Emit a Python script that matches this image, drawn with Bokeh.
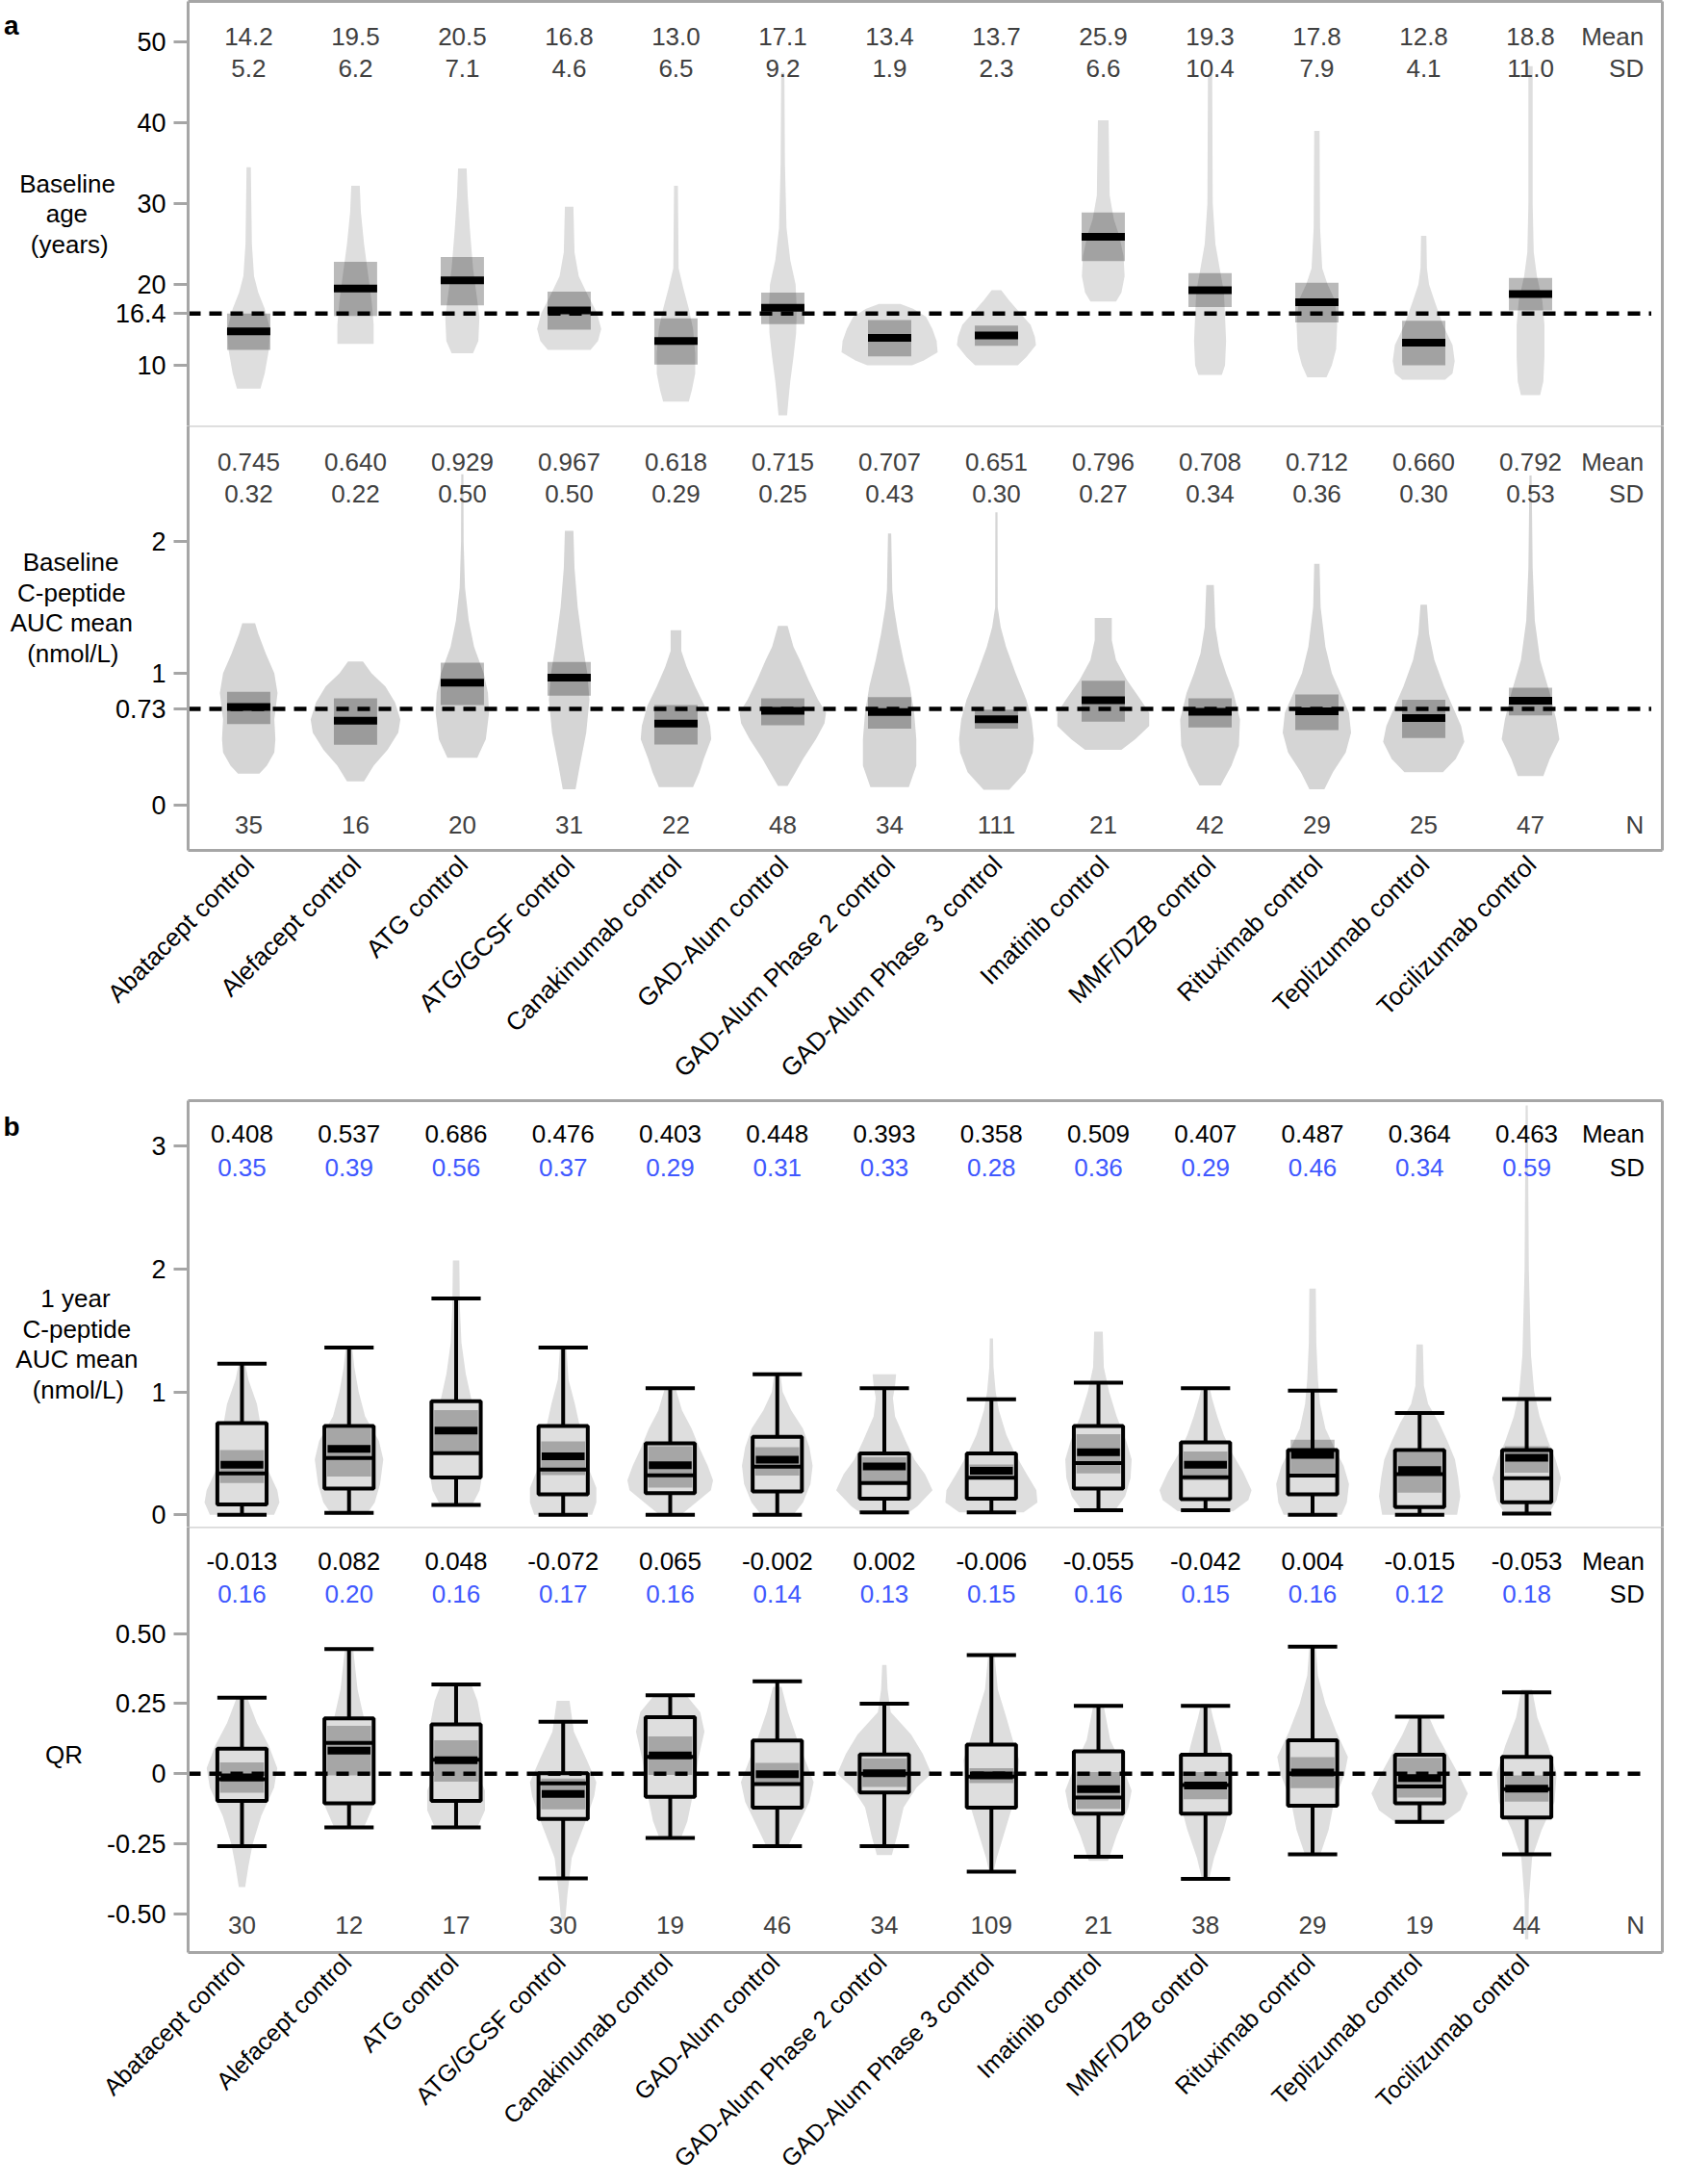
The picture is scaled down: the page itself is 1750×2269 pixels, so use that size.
import math
from bokeh.plotting import figure
from bokeh.models import Range1d, LinearAxis, FixedTicker
from bokeh.layouts import column
from bokeh.embed import file_html
from bokeh.resources import INLINE
from bokeh.core.properties import value

# ---------------- data ----------------
categories = ["Abatacept control", "Alefacept control", "ATG control", "ATG/GCSF control",
              "Canakinumab control", "GAD-Alum control", "GAD-Alum Phase 2 control",
              "GAD-Alum Phase 3 control", "Imatinib control", "MMF/DZB control",
              "Rituximab control", "Teplizumab control", "Tocilizumab control"]

# panel a: baseline age
age_mean = [14.2, 19.5, 20.5, 16.8, 13.0, 17.1, 13.4, 13.7, 25.9, 19.3, 17.8, 12.8, 18.8]
age_sd = [5.2, 6.2, 7.1, 4.6, 6.5, 9.2, 1.9, 2.3, 6.6, 10.4, 7.9, 4.1, 11.0]
age_ci_lo = [11.9, 16.1, 17.4, 14.4, 10.1, 15.1, 11.1, 12.4, 22.9, 17.2, 15.3, 10.0, 16.8]
age_ci_hi = [16.4, 22.8, 23.4, 19.1, 15.8, 19.0, 15.6, 14.9, 28.9, 21.4, 20.2, 15.5, 20.8]
age_ref = 16.4
age_violin = [
    [(7.1, 0.11), (9, 0.15), (12, 0.19), (14.5, 0.20), (17, 0.15), (19, 0.09), (21, 0.05), (25, 0.03), (34.5, 0.02)],
    [(12.65, 0.17), (15, 0.17), (18, 0.15), (21, 0.12), (25, 0.08), (29, 0.05), (32.2, 0.04)],
    [(11.5, 0.10), (13, 0.15), (16, 0.16), (19, 0.13), (22, 0.10), (27, 0.07), (31, 0.05), (34.35, 0.04)],
    [(11.9, 0.2), (13, 0.27), (14.5, 0.30), (16.5, 0.26), (18.5, 0.18), (21, 0.09), (24, 0.05), (29.6, 0.04)],
    [(5.5, 0.12), (7, 0.15), (9, 0.18), (11.5, 0.18), (14.5, 0.16), (17, 0.12), (19.5, 0.07), (22, 0.025), (32.2, 0.018)],
    [(3.8, 0.04), (6, 0.055), (8, 0.07), (11, 0.1), (14, 0.125), (17, 0.13), (20, 0.12), (23, 0.07), (27, 0.035), (35, 0.02), (46.2, 0.015)],
    [(10.0, 0.21), (10.6, 0.32), (11.6, 0.45), (13, 0.44), (14.5, 0.4), (16, 0.34), (17, 0.22), (17.6, 0.1)],
    [(10.0, 0.2), (11, 0.28), (12.5, 0.37), (13.5, 0.36), (15, 0.32), (16.5, 0.22), (18, 0.12), (19.3, 0.045)],
    [(17.9, 0.12), (19, 0.17), (21, 0.2), (23.5, 0.19), (26, 0.15), (28, 0.1), (31, 0.06), (40.3, 0.05)],
    [(8.8, 0.11), (10, 0.14), (13, 0.15), (16, 0.14), (19, 0.13), (22, 0.09), (25, 0.05), (30, 0.025), (46, 0.02)],
    [(8.5, 0.09), (10, 0.14), (12, 0.18), (15, 0.19), (18, 0.17), (20, 0.1), (22, 0.05), (27, 0.03), (39, 0.025)],
    [(8.2, 0.2), (9, 0.27), (10.5, 0.29), (12.5, 0.27), (15, 0.18), (18, 0.1), (20, 0.05), (22, 0.03), (26, 0.025)],
    [(6.3, 0.09), (8, 0.12), (11, 0.13), (15, 0.13), (18, 0.11), (21, 0.06), (24, 0.03), (30, 0.02), (47, 0.02)],
]
age_ticks = [10, 16.4, 20, 30, 40, 50]
age_tick_labels = ["10", "16.4", "20", "30", "40", "50"]

# panel a: baseline C-peptide
cpep_mean = [0.745, 0.640, 0.929, 0.967, 0.618, 0.715, 0.707, 0.651, 0.796, 0.708, 0.712, 0.660, 0.792]
cpep_sd = [0.32, 0.22, 0.50, 0.50, 0.29, 0.25, 0.43, 0.30, 0.27, 0.34, 0.36, 0.30, 0.53]
cpep_n = [35, 16, 20, 31, 22, 48, 34, 111, 21, 42, 29, 25, 47]
cpep_ci_lo = [0.615, 0.458, 0.76, 0.83, 0.46, 0.605, 0.58, 0.58, 0.633, 0.59, 0.57, 0.51, 0.68]
cpep_ci_hi = [0.86, 0.81, 1.08, 1.085, 0.76, 0.81, 0.82, 0.725, 0.944, 0.81, 0.84, 0.80, 0.89]
cpep_ref = 0.73
cpep_violin = [
    [(0.24, 0.1), (0.3, 0.17), (0.4, 0.24), (0.5, 0.25), (0.65, 0.24), (0.85, 0.27), (1.0, 0.24), (1.15, 0.16), (1.3, 0.09), (1.38, 0.06)],
    [(0.18, 0.08), (0.3, 0.17), (0.42, 0.3), (0.55, 0.4), (0.65, 0.42), (0.78, 0.37), (0.9, 0.28), (1.0, 0.15), (1.09, 0.07)],
    [(0.36, 0.14), (0.5, 0.22), (0.7, 0.25), (0.85, 0.24), (1.0, 0.2), (1.2, 0.11), (1.4, 0.06), (1.65, 0.025), (2.0, 0.012), (2.51, 0.01)],
    [(0.12, 0.06), (0.3, 0.1), (0.55, 0.16), (0.8, 0.19), (1.0, 0.17), (1.2, 0.13), (1.5, 0.08), (1.8, 0.05), (2.08, 0.04)],
    [(0.137, 0.16), (0.25, 0.22), (0.35, 0.26), (0.5, 0.33), (0.6, 0.32), (0.75, 0.27), (0.9, 0.18), (1.05, 0.1), (1.17, 0.05), (1.326, 0.05)],
    [(0.146, 0.045), (0.25, 0.12), (0.35, 0.19), (0.5, 0.31), (0.62, 0.39), (0.7, 0.405), (0.8, 0.33), (0.95, 0.24), (1.1, 0.16), (1.2, 0.1), (1.36, 0.045)],
    [(0.137, 0.18), (0.3, 0.25), (0.5, 0.25), (0.7, 0.23), (0.9, 0.19), (1.1, 0.13), (1.3, 0.08), (1.5, 0.04), (1.63, 0.025), (2.06, 0.015)],
    [(0.117, 0.12), (0.25, 0.27), (0.4, 0.34), (0.5, 0.35), (0.65, 0.33), (0.8, 0.28), (1.0, 0.18), (1.2, 0.09), (1.35, 0.04), (1.5, 0.012), (2.22, 0.01)],
    [(0.42, 0.17), (0.5, 0.3), (0.6, 0.43), (0.7, 0.43), (0.8, 0.35), (0.95, 0.22), (1.1, 0.12), (1.25, 0.08), (1.42, 0.08)],
    [(0.15, 0.1), (0.3, 0.2), (0.45, 0.27), (0.65, 0.28), (0.85, 0.22), (1.0, 0.15), (1.15, 0.09), (1.35, 0.05), (1.67, 0.035)],
    [(0.12, 0.07), (0.25, 0.15), (0.4, 0.27), (0.55, 0.32), (0.7, 0.3), (0.85, 0.22), (1.0, 0.14), (1.2, 0.08), (1.5, 0.035), (1.83, 0.025)],
    [(0.25, 0.18), (0.35, 0.3), (0.48, 0.38), (0.6, 0.35), (0.75, 0.27), (0.9, 0.19), (1.1, 0.1), (1.3, 0.05), (1.52, 0.03)],
    [(0.22, 0.12), (0.35, 0.18), (0.5, 0.27), (0.65, 0.24), (0.85, 0.18), (1.1, 0.09), (1.4, 0.04), (1.8, 0.02), (2.5, 0.01)],
]
cpep_ticks = [0, 0.73, 1, 2]
cpep_tick_labels = ["0", "0.73", "1", "2"]

# panel b: 1 year C-peptide
yr_mean = [0.408, 0.537, 0.686, 0.476, 0.403, 0.448, 0.393, 0.358, 0.509, 0.407, 0.487, 0.364, 0.463]
yr_sd = [0.35, 0.39, 0.56, 0.37, 0.29, 0.31, 0.33, 0.28, 0.36, 0.29, 0.46, 0.34, 0.59]
yr_whisk_lo = [0.0, 0.016, 0.081, 0.0, 0.0, 0.0, 0.02, 0.02, 0.037, 0.037, 0.0, 0.0, 0.01]
yr_q1 = [0.084, 0.214, 0.303, 0.167, 0.177, 0.19, 0.132, 0.132, 0.214, 0.128, 0.167, 0.063, 0.102]
yr_median = [0.337, 0.462, 0.501, 0.368, 0.321, 0.392, 0.258, 0.302, 0.42, 0.305, 0.319, 0.33, 0.298]
yr_q3 = [0.746, 0.723, 0.924, 0.723, 0.581, 0.635, 0.5, 0.5, 0.723, 0.59, 0.527, 0.527, 0.527]
yr_whisk_hi = [1.23, 1.36, 1.76, 1.36, 1.03, 1.143, 1.03, 0.94, 1.075, 1.03, 1.01, 0.828, 0.942]
yr_ci_lo = [0.258, 0.311, 0.507, 0.323, 0.222, 0.32, 0.266, 0.29, 0.337, 0.28, 0.337, 0.18, 0.342]
yr_ci_hi = [0.527, 0.702, 0.851, 0.597, 0.558, 0.55, 0.47, 0.41, 0.655, 0.514, 0.611, 0.507, 0.558]
yr_violin = [
    [(0.0, 0.3), (0.1, 0.35), (0.2, 0.33), (0.35, 0.25), (0.5, 0.2), (0.7, 0.18), (0.9, 0.14), (1.1, 0.06), (1.23, 0.03)],
    [(0.0, 0.16), (0.1, 0.24), (0.25, 0.29), (0.45, 0.32), (0.6, 0.28), (0.8, 0.15), (1.0, 0.09), (1.2, 0.05), (1.36, 0.03)],
    [(0.08, 0.15), (0.2, 0.22), (0.35, 0.25), (0.55, 0.24), (0.75, 0.21), (0.95, 0.14), (1.15, 0.09), (1.4, 0.05), (1.7, 0.035), (2.07, 0.03)],
    [(0.0, 0.27), (0.1, 0.31), (0.22, 0.31), (0.35, 0.25), (0.5, 0.2), (0.7, 0.16), (0.9, 0.11), (1.1, 0.05), (1.36, 0.03)],
    [(0.0, 0.1), (0.07, 0.2), (0.2, 0.38), (0.28, 0.4), (0.4, 0.35), (0.55, 0.27), (0.7, 0.2), (0.85, 0.11), (1.03, 0.05)],
    [(0.0, 0.15), (0.1, 0.24), (0.25, 0.31), (0.4, 0.33), (0.55, 0.3), (0.7, 0.24), (0.85, 0.13), (1.0, 0.05), (1.14, 0.03)],
    [(0.0, 0.2), (0.07, 0.31), (0.2, 0.45), (0.33, 0.38), (0.45, 0.28), (0.6, 0.2), (0.8, 0.1), (0.95, 0.08), (1.05, 0.1), (1.143, 0.11)],
    [(0.02, 0.3), (0.1, 0.43), (0.2, 0.42), (0.33, 0.33), (0.5, 0.22), (0.65, 0.14), (0.85, 0.07), (1.0, 0.04), (1.2, 0.02), (1.435, 0.015)],
    [(0.03, 0.15), (0.15, 0.25), (0.3, 0.3), (0.45, 0.31), (0.6, 0.26), (0.8, 0.17), (1.0, 0.1), (1.2, 0.05), (1.49, 0.04)],
    [(0.03, 0.26), (0.12, 0.4), (0.2, 0.43), (0.35, 0.35), (0.5, 0.25), (0.65, 0.17), (0.8, 0.11), (0.95, 0.06), (1.03, 0.04)],
    [(0.0, 0.27), (0.1, 0.32), (0.25, 0.34), (0.4, 0.29), (0.55, 0.2), (0.7, 0.12), (0.9, 0.07), (1.1, 0.05), (1.4, 0.035), (1.84, 0.03)],
    [(0.0, 0.35), (0.15, 0.38), (0.3, 0.36), (0.45, 0.33), (0.6, 0.26), (0.75, 0.18), (0.9, 0.08), (1.05, 0.04), (1.386, 0.03)],
    [(0.0, 0.2), (0.12, 0.28), (0.3, 0.32), (0.45, 0.27), (0.6, 0.2), (0.8, 0.12), (1.0, 0.07), (1.3, 0.04), (2.0, 0.02), (3.33, 0.01)],
]
yr_ticks = [0, 1, 2, 3]
yr_tick_labels = ["0", "1", "2", "3"]

# panel b: QR
qr_mean = [-0.013, 0.082, 0.048, -0.072, 0.065, -0.002, 0.002, -0.006, -0.055, -0.042, 0.004, -0.015, -0.053]
qr_sd = [0.16, 0.20, 0.16, 0.17, 0.16, 0.14, 0.13, 0.15, 0.16, 0.15, 0.16, 0.12, 0.18]
qr_n = [30, 12, 17, 30, 19, 46, 34, 109, 21, 38, 29, 19, 44]
qr_whisk_lo = [-0.258, -0.191, -0.191, -0.373, -0.229, -0.258, -0.258, -0.349, -0.296, -0.375, -0.287, -0.171, -0.287]
qr_q1 = [-0.097, -0.105, -0.097, -0.161, -0.082, -0.121, -0.067, -0.121, -0.142, -0.142, -0.114, -0.105, -0.156]
qr_median = [-0.02, 0.11, 0.05, -0.034, 0.06, -0.037, 0.0, -0.01, -0.085, -0.04, 0.0, -0.045, -0.055]
qr_q3 = [0.089, 0.197, 0.176, 0.002, 0.202, 0.118, 0.069, 0.104, 0.08, 0.068, 0.119, 0.068, 0.06]
qr_whisk_hi = [0.271, 0.444, 0.318, 0.185, 0.28, 0.329, 0.25, 0.423, 0.242, 0.242, 0.453, 0.203, 0.29]
qr_ci_lo = [-0.068, -0.006, -0.028, -0.127, -0.004, -0.033, -0.047, -0.033, -0.125, -0.091, -0.051, -0.085, -0.099]
qr_ci_hi = [0.04, 0.171, 0.119, -0.017, 0.133, 0.039, 0.055, 0.02, 0.006, 0.006, 0.059, 0.057, -0.006]
qr_ref = 0.0
qr_violin = [
    [(-0.404, 0.03), (-0.33, 0.06), (-0.25, 0.1), (-0.15, 0.18), (-0.05, 0.3), (0.02, 0.33), (0.1, 0.25), (0.18, 0.14), (0.27, 0.05)],
    [(-0.19, 0.14), (-0.12, 0.22), (-0.03, 0.24), (0.07, 0.22), (0.18, 0.15), (0.3, 0.08), (0.44, 0.04)],
    [(-0.19, 0.2), (-0.13, 0.27), (-0.06, 0.27), (0.02, 0.18), (0.1, 0.19), (0.18, 0.24), (0.26, 0.2), (0.32, 0.14)],
    [(-0.52, 0.02), (-0.43, 0.04), (-0.3, 0.08), (-0.18, 0.2), (-0.08, 0.29), (-0.03, 0.31), (0.05, 0.22), (0.15, 0.1), (0.26, 0.06)],
    [(-0.23, 0.1), (-0.17, 0.16), (-0.06, 0.22), (0.05, 0.26), (0.15, 0.32), (0.22, 0.28), (0.28, 0.15)],
    [(-0.26, 0.1), (-0.18, 0.2), (-0.1, 0.3), (-0.03, 0.34), (0.05, 0.26), (0.13, 0.18), (0.22, 0.1), (0.31, 0.04)],
    [(-0.29, 0.07), (-0.22, 0.12), (-0.12, 0.18), (-0.05, 0.3), (0.0, 0.44), (0.07, 0.36), (0.14, 0.25), (0.22, 0.06), (0.3, 0.03), (0.388, 0.02)],
    [(-0.35, 0.02), (-0.3, 0.05), (-0.2, 0.13), (-0.06, 0.24), (0.05, 0.26), (0.12, 0.2), (0.2, 0.14), (0.3, 0.06), (0.42, 0.03)],
    [(-0.31, 0.09), (-0.22, 0.17), (-0.12, 0.28), (-0.06, 0.31), (0.03, 0.22), (0.12, 0.11), (0.24, 0.05)],
    [(-0.38, 0.03), (-0.3, 0.08), (-0.2, 0.17), (-0.1, 0.24), (0.0, 0.2), (0.1, 0.14), (0.2, 0.07), (0.25, 0.04)],
    [(-0.29, 0.07), (-0.2, 0.15), (-0.1, 0.2), (0.0, 0.3), (0.06, 0.33), (0.15, 0.22), (0.25, 0.12), (0.35, 0.05), (0.45, 0.03)],
    [(-0.18, 0.2), (-0.13, 0.38), (-0.07, 0.45), (0.0, 0.36), (0.07, 0.26), (0.14, 0.16), (0.2, 0.09)],
    [(-0.59, 0.015), (-0.45, 0.02), (-0.3, 0.05), (-0.2, 0.14), (-0.1, 0.26), (0.0, 0.28), (0.1, 0.2), (0.2, 0.1), (0.3, 0.05)],
]
qr_ticks = [-0.5, -0.25, 0, 0.25, 0.5]
qr_tick_labels = ["-0.50", "-0.25", "0", "0.25", "0.50"]

# ---------------- styling ----------------
FONT = "Liberation Sans"
FRAME = "#a6a6a6"
SEP = "#dadada"
STAT_GREY = "#404040"
SD_BLUE = "#4058ff"
NBSP = "\u00a0"
idx = list(range(len(categories)))

# Arial / Liberation Sans advance widths (per 1000 em) used to centre label lines
GLYPH_W = {"B": 667, "a": 556, "s": 500, "e": 556, "l": 222, "i": 222, "n": 556, "g": 556,
           "(": 333, "y": 500, "r": 333, ")": 333, "C": 722, "-": 333, "p": 556, "t": 278,
           "d": 556, "A": 667, "U": 722, " ": 278, "m": 833, "o": 556, "/": 278, "L": 556,
           "1": 556, "Q": 778, "R": 722}


def block_label(lines, before=0, after=0):
    def tw(s):
        return sum(GLYPH_W.get(c, 556) for c in s)
    widest = max(tw(l) for l in lines)
    padded = [l + NBSP * int(round((widest - tw(l)) / 2.0 / 278)) for l in lines]
    return "\n".join([NBSP] * before + padded + [NBSP] * after)


def style_yaxis(ax, ticks, labels, title, title_standoff):
    ax.ticker = FixedTicker(ticks=ticks, minor_ticks=[])
    ax.major_label_overrides = {t: l for t, l in zip(ticks, labels)}
    ax.axis_line_color = FRAME
    ax.axis_line_width = 3
    ax.major_tick_line_color = FRAME
    ax.major_tick_line_width = 3
    ax.major_tick_out = 15
    ax.major_tick_in = 0
    ax.minor_tick_out = 0
    ax.minor_tick_in = 0
    ax.major_label_text_font = FONT
    ax.major_label_text_font_size = "27px"
    ax.major_label_text_color = "black"
    ax.major_label_standoff = 8
    ax.axis_label = title
    ax.axis_label_text_font = FONT
    ax.axis_label_text_font_size = "26px"
    ax.axis_label_text_font_style = "normal"
    ax.axis_label_text_color = "black"
    ax.axis_label_text_line_height = 1.05
    ax.axis_label_standoff = title_standoff
    try:
        ax.axis_label_orientation = "horizontal"
    except Exception:
        pass


def line_axis(p, side, color, width=3):
    ax = LinearAxis(ticker=FixedTicker(ticks=[], minor_ticks=[]),
                    axis_line_color=color, axis_line_width=width,
                    major_tick_out=0, major_tick_in=0, minor_tick_out=0, minor_tick_in=0,
                    major_label_text_font_size="0px", major_label_standoff=0)
    p.add_layout(ax, side)


def letter_axis(p, yv, letter, standoff):
    ax = LinearAxis(ticker=FixedTicker(ticks=[yv], minor_ticks=[]),
                    major_label_overrides={yv: letter},
                    axis_line_color=None, major_tick_line_color=None,
                    major_tick_out=0, major_tick_in=0, minor_tick_out=0, minor_tick_in=0,
                    major_label_text_font=FONT, major_label_text_font_size="28px",
                    major_label_text_font_style="bold", major_label_text_color="black",
                    major_label_standoff=standoff)
    p.add_layout(ax, "left")


LEFT, FRAME_W, RIGHT = 194, 1533, 6


def make_fig(xr, yr, frame_h, top, bottom, xlab, ticks, tick_labels,
             top_color, title, title_standoff):
    p = figure(width=LEFT + FRAME_W + RIGHT, height=top + frame_h + bottom,
               x_range=Range1d(*xr), y_range=Range1d(*yr),
               output_backend="svg", toolbar_location=None,
               x_axis_location="below" if xlab else None, y_axis_location="left",
               min_border_left=LEFT, min_border_right=RIGHT,
               min_border_top=top, min_border_bottom=bottom,
               outline_line_color=None, background_fill_color="white",
               border_fill_color="white")
    p.grid.visible = False
    style_yaxis(p.yaxis[0], ticks, tick_labels, title, title_standoff)
    if xlab:
        shift, fsize, standoff = xlab
        ax = p.xaxis[0]
        tpos = [i + shift for i in idx]
        ax.ticker = FixedTicker(ticks=tpos, minor_ticks=[])
        ax.major_label_overrides = {t: c for t, c in zip(tpos, categories)}
        ax.major_label_orientation = math.pi / 4
        ax.axis_line_color = FRAME
        ax.axis_line_width = 3
        ax.major_tick_out = 0
        ax.major_tick_in = 0
        ax.minor_tick_out = 0
        ax.minor_tick_in = 0
        ax.major_label_text_font = FONT
        ax.major_label_text_font_size = fsize
        ax.major_label_text_color = "black"
        ax.major_label_standoff = standoff
    line_axis(p, "above", top_color, 3 if top_color == FRAME else 2.5)
    line_axis(p, "right", FRAME, 3)
    return p


def violins(p, data, color):
    xs, ys = [], []
    for i, knots in enumerate(data):
        v = [k[0] for k in knots]
        w = [k[1] for k in knots]
        xs.append([i + a for a in w] + [i - a for a in reversed(w)])
        ys.append(v + list(reversed(v)))
    p.patches(xs=xs, ys=ys, fill_color=color, line_color=None)


def stat_row(p, yv, texts, color, label=None, label_x=None, label_color=None):
    p.text(x=idx, y=[yv] * len(idx), text=texts, text_font=value(FONT),
           text_font_size=value("26px"), text_align="center", text_baseline="middle",
           text_color=color)
    if label is not None:
        p.text(x=[label_x], y=[yv], text=[label], text_font=value(FONT),
               text_font_size=value("26px"), text_align="right", text_baseline="middle",
               text_color=label_color or color)


def ci_and_mean(p, lo, hi, mean, half_box, half_bar, ref, x_end):
    p.quad(left=[i - half_box for i in idx], right=[i + half_box for i in idx],
           bottom=lo, top=hi, fill_color="black", fill_alpha=0.27, line_color=None)
    p.line(x=[p.x_range.start, x_end], y=[ref, ref], line_color="black",
           line_width=4.5, line_dash="13 9")
    p.segment(x0=[i - half_bar for i in idx], y0=mean, x1=[i + half_bar for i in idx], y1=mean,
              line_color="black", line_width=8, line_cap="butt")


def boxplot(p, lo, q1, med, q3, hi, ci_lo, ci_hi, mean, ref, x_end):
    hb, hc, hm = 0.23, 0.205, 0.2
    p.quad(left=[i - hb for i in idx], right=[i + hb for i in idx], bottom=q1, top=q3,
           fill_color="#dedede", line_color=None)
    p.quad(left=[i - hc for i in idx], right=[i + hc for i in idx], bottom=ci_lo, top=ci_hi,
           fill_color="black", fill_alpha=0.25, line_color=None)
    if ref is not None:
        p.line(x=[p.x_range.start, x_end], y=[ref, ref], line_color="black",
               line_width=4.5, line_dash="13 9")
    p.segment(x0=[i - hm for i in idx], y0=mean, x1=[i + hm for i in idx], y1=mean,
              line_color="black", line_width=8, line_cap="butt")
    lw = 4
    p.segment(x0=idx, y0=q3, x1=idx, y1=hi, line_color="black", line_width=lw)
    p.segment(x0=idx, y0=q1, x1=idx, y1=lo, line_color="black", line_width=lw)
    p.segment(x0=[i - hb for i in idx], y0=hi, x1=[i + hb for i in idx], y1=hi,
              line_color="black", line_width=lw, line_cap="butt")
    p.segment(x0=[i - hb for i in idx], y0=lo, x1=[i + hb for i in idx], y1=lo,
              line_color="black", line_width=lw, line_cap="butt")
    p.segment(x0=[i - hb for i in idx], y0=med, x1=[i + hb for i in idx], y1=med,
              line_color="black", line_width=lw, line_cap="butt")
    p.quad(left=[i - hb for i in idx], right=[i + hb for i in idx], bottom=q1, top=q3,
           fill_color=None, line_color="black", line_width=lw)


# ---------------- panel a ----------------
XA = (-0.567, 13.234)

pa1 = make_fig(XA, (2.5, 55.0), 441, 1, 0, None, age_ticks, age_tick_labels,
               FRAME, block_label(["Baseline", "age", "(years)"]), -3)
letter_axis(pa1, 52.0, "a", -2)
violins(pa1, age_violin, "#dedede")
ci_and_mean(pa1, age_ci_lo, age_ci_hi, age_mean, 0.2025, 0.2025, age_ref, 13.13)
stat_row(pa1, 50.62, ["%.1f" % m for m in age_mean], STAT_GREY, "Mean", 13.06)
stat_row(pa1, 46.70, ["%.1f" % s for s in age_sd], STAT_GREY, "SD", 13.06)

pa2 = make_fig(XA, (-0.343, 2.876), 441, 0, 258, (0.01, "26px", 10),
               cpep_ticks, cpep_tick_labels, SEP,
               block_label(["Baseline", "C-peptide", "AUC mean", "(nmol/L)"], after=2), -21)
violins(pa2, cpep_violin, "#d5d5d5")
ci_and_mean(pa2, cpep_ci_lo, cpep_ci_hi, cpep_mean, 0.2025, 0.2025, cpep_ref, 13.13)
stat_row(pa2, 2.599, ["%.3f" % m for m in cpep_mean], STAT_GREY, "Mean", 13.06)
stat_row(pa2, 2.358, ["%.2f" % s for s in cpep_sd], STAT_GREY, "SD", 13.06)
stat_row(pa2, -0.153, [str(n) for n in cpep_n], STAT_GREY, "N", 13.06)

# ---------------- panel b ----------------
XB = (-0.503, 13.267)

pb1 = make_fig(XB, (-0.10, 3.37), 443, 2, 0, None, yr_ticks, yr_tick_labels,
               FRAME, block_label(["1 year", "C-peptide", "AUC mean", "(nmol/L)"], before=2), 11)
letter_axis(pb1, 3.156, "b", -7)
violins(pb1, yr_violin, "#dedede")
boxplot(pb1, yr_whisk_lo, yr_q1, yr_median, yr_q3, yr_whisk_hi, yr_ci_lo, yr_ci_hi, yr_mean, None, 13.13)
stat_row(pb1, 3.101, ["%.3f" % m for m in yr_mean], "black", "Mean", 13.1)
stat_row(pb1, 2.827, ["%.2f" % s for s in yr_sd], SD_BLUE, "SD", 13.1, "black")

pb2 = make_fig(XB, (-0.637, 0.879), 445, 0, 238, (-0.02, "25px", 6),
               qr_ticks, qr_tick_labels, SEP, block_label(["QR"], before=1), 22)
violins(pb2, qr_violin, "#dedede")
boxplot(pb2, qr_whisk_lo, qr_q1, qr_median, qr_q3, qr_whisk_hi, qr_ci_lo, qr_ci_hi, qr_mean, qr_ref, 13.13)
stat_row(pb2, 0.758, ["%.3f" % m for m in qr_mean], "black", "Mean", 13.1)
stat_row(pb2, 0.642, ["%.2f" % s for s in qr_sd], SD_BLUE, "SD", 13.1, "black")
stat_row(pb2, -0.539, [str(n) for n in qr_n], STAT_GREY, "N", 13.1)

layout = column(pa1, pa2, pb1, pb2, spacing=0)
open("out.html", "w").write(file_html(layout, INLINE))
